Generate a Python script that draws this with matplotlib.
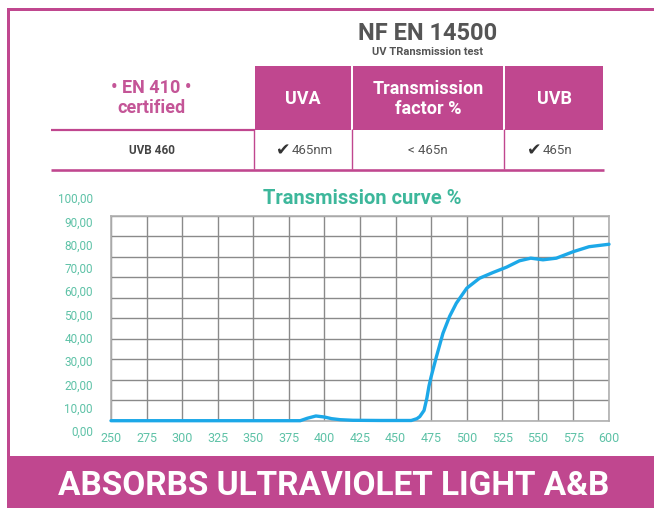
import matplotlib
matplotlib.use("Agg")
import matplotlib.pyplot as plt
from matplotlib.patches import Rectangle
from matplotlib.lines import Line2D

# ---------------- data ----------------
wavelength = [250, 300, 350, 383, 388, 394, 400, 405, 411, 420, 440, 461,
              465, 467, 470, 472, 473.5, 475, 478.6, 483.3, 488, 492.7, 500,
              509, 518.5, 528, 537, 545, 553.6, 563, 575, 586, 600]
transmission = [0, 0, 0, 0, 1.2, 2.3, 1.8, 1.0, 0.5, 0.2, 0.1, 0.1,
                1, 2, 5, 11, 17, 21.5, 31, 42.7, 51, 57.4, 64.7,
                69.6, 72.4, 75, 78.1, 79.4, 78.6, 79.4, 82.6, 85, 86.2]
x_ticks = [250, 275, 300, 325, 350, 375, 400, 425, 450, 475, 500, 525, 550, 575, 600]
y_ticks = [0, 10, 20, 30, 40, 50, 60, 70, 80, 90, 100]
y_tick_labels = ["0,00", "10,00", "20,00", "30,00", "40,00", "50,00",
                 "60,00", "70,00", "80,00", "90,00", "100,00"]
header_cols = ["UVA", "Transmission\nfactor %", "UVB"]
row_label = "UVB 460"
row_values = ["465nm", "< 465n", "465n"]
row_checks = [True, False, True]

W, H = 654, 508
PINK = "#c0478f"
TEAL = "#3db79b"
TEAL_L = "#5ec2a7"
GRAY_T = "#555555"
BLUE = "#1ca8e8"
FONT = ["Roboto", "DejaVu Sans"]

plt.rcParams["font.family"] = FONT

fig = plt.figure(figsize=(W / 100, H / 100), dpi=100)
fig.patch.set_facecolor("white")


def fx(x):
    return x / W


def fy(y):
    return 1 - y / H


def rect(x0, y0, x1, y1, color):
    fig.add_artist(Rectangle((fx(x0), fy(y1)), fx(x1) - fx(x0), (y1 - y0) / H,
                             transform=fig.transFigure, facecolor=color,
                             edgecolor="none", zorder=1))


def hline(x0, x1, y, lw, color):
    fig.add_artist(Line2D([fx(x0), fx(x1)], [fy(y), fy(y)], transform=fig.transFigure,
                          color=color, lw=lw * 0.72, solid_capstyle="butt", zorder=2))


def vline(x, y0, y1, lw, color):
    fig.add_artist(Line2D([fx(x), fx(x)], [fy(y0), fy(y1)], transform=fig.transFigure,
                          color=color, lw=lw * 0.72, solid_capstyle="butt", zorder=2))


def text(x, y, s, **kw):
    fig.text(fx(x), fy(y), s, ha=kw.pop("ha", "center"), va=kw.pop("va", "center"), **kw)


# ---------------- frame ----------------
rect(7, 8, W, 10.8, PINK)          # top border
rect(7, 8, 9.6, 458, PINK)         # left border
rect(7, 456, W, H, PINK)           # bottom banner
text(334, 486, "ABSORBS ULTRAVIOLET LIGHT A&B", color="white",
     fontsize=24, fontweight="bold")

# ---------------- header ----------------
text(428, 33, "NF EN 14500", color=GRAY_T, fontsize=17, fontweight="bold")
text(427, 52, "UV TRansmission test", color=GRAY_T, fontsize=8, fontweight="bold")

cells = [(255, 351), (353, 503), (505, 603)]
for (x0, x1), lab in zip(cells, header_cols):
    rect(x0, 66, x1, 129.5, PINK)
    text((x0 + x1) / 2, 99, lab, color="white", fontsize=13, fontweight="bold",
         linespacing=1.15, multialignment="center")

text(151, 98, "• EN 410 •\ncertified", color="#c45597", fontsize=13,
     fontweight="bold", linespacing=1.15, multialignment="center")
hline(51, 255, 129.5, 2.2, PINK)
hline(51, 604, 169.5, 2.6, PINK)
for xv in (254, 352, 504):
    vline(xv, 129, 169, 1.4, PINK)

text(152, 151, row_label, color="#444444", fontsize=8.5, fontweight="bold")
for (x0, x1), val, chk in zip(cells, row_values, row_checks):
    cx = (x0 + x1) / 2
    if chk:
        text(cx - 11, 151, val, color=GRAY_T, fontsize=9.5, ha="left")
        text(cx - 13, 150, "✔", color="#333333", fontsize=12.5, ha="right",
             family=["DejaVu Sans"])
    else:
        text(cx, 151, val, color=GRAY_T, fontsize=9.5)

# ---------------- chart ----------------
ax_left, ax_right, ax_top, ax_bot = 111, 609, 216, 420.7
ax = fig.add_axes([fx(ax_left), fy(ax_bot), (ax_right - ax_left) / W, (ax_bot - ax_top) / H])
ax.set_xlim(250, 600)
ax.set_ylim(0, 100)
ax.set_xticks(x_ticks)
ax.set_xticklabels([str(v) for v in x_ticks])
ax.set_yticks(y_ticks)
ax.tick_params(axis="y", labelleft=False, length=0)
ax.tick_params(axis="x", length=0, pad=8, labelsize=9, labelcolor=TEAL_L)
ax.grid(True, color="#8a8a8a", lw=1.0)
ax.set_axisbelow(True)
for sp in ax.spines.values():
    sp.set_color("#b0b0b0")
    sp.set_linewidth(1.2)
ax.plot(wavelength, transmission, color=BLUE, lw=2.4, solid_capstyle="round",
        solid_joinstyle="round", zorder=3, clip_on=False)

# y labels (drawn on an overlay axis spanning the label column as in the reference)
lab_top, lab_bot = 198, 431
ax2 = fig.add_axes([fx(ax_left), fy(lab_bot), (ax_right - ax_left) / W, (lab_bot - lab_top) / H])
ax2.set_ylim(0, 100)
ax2.set_yticks(y_ticks)
ax2.set_yticklabels(y_tick_labels)
ax2.tick_params(axis="y", length=0, pad=13, labelsize=8.5, labelcolor=TEAL_L)
ax2.set_xticks([])
ax2.patch.set_alpha(0)
for sp in ax2.spines.values():
    sp.set_visible(False)

text(362, 199, "Transmission curve %", color=TEAL, fontsize=14.5, fontweight="bold")

fig.savefig("out.png", dpi=100)
